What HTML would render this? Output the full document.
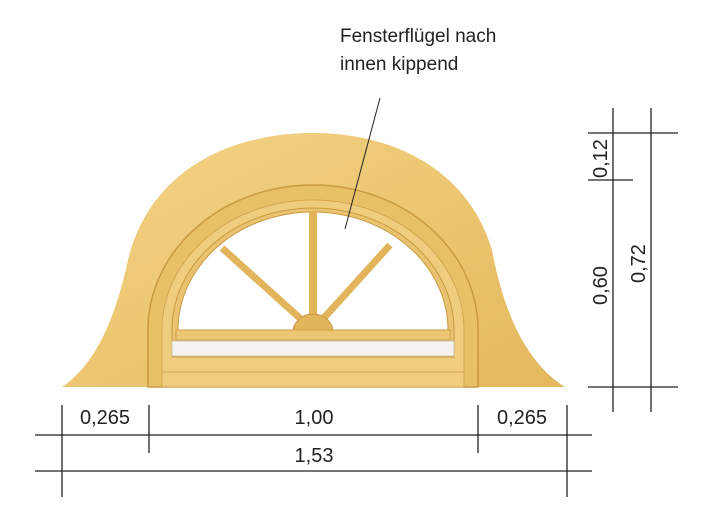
<!DOCTYPE html>
<html><head><meta charset="utf-8"><style>
html,body{margin:0;padding:0;background:#fff;}
svg{display:block;}
text{font-family:"Liberation Sans",sans-serif;fill:#222;}
</style></head><body>
<svg width="712" height="526" viewBox="0 0 712 526" xmlns="http://www.w3.org/2000/svg">
<defs>
<linearGradient id="w" x1="0" y1="0" x2="1" y2="1">
<stop offset="0" stop-color="#f3d488"/><stop offset="0.5" stop-color="#ecc670"/><stop offset="1" stop-color="#e3b85e"/>
</linearGradient>
</defs>
<!-- dormer body -->
<path d="M62,387 C95,365 115,320 128,260 C150,170 230,133 313,133 C400,133 470,175 492,250 C505,320 530,365 565,387 Z" fill="url(#w)"/>
<!-- window frame -->
<path d="M148,387 L148,330 A165,145 0 0 1 478,330 L478,387 Z" fill="#e8c068" stroke="#c99a40" stroke-width="1.5"/>
<path d="M162,387 L162,330 A151,130 0 0 1 464,330 L464,387 Z" fill="#f0cd7e" stroke="#d4a650" stroke-width="1"/>
<path d="M172,357 L172,330 A141,122 0 0 1 454,330 L454,357 Z" fill="#e9c371" stroke="#c99a40" stroke-width="1"/>
<!-- glass -->
<path d="M178,330 A135,118 0 0 1 448,330 Z" fill="#fff" stroke="#c99a40" stroke-width="1"/>
<!-- spokes -->
<line x1="313" y1="330" x2="313" y2="212" stroke="#e2b45c" stroke-width="8"/>
<line x1="313" y1="330" x2="222" y2="248" stroke="#e2b45c" stroke-width="7"/>
<line x1="313" y1="330" x2="390" y2="245" stroke="#e2b45c" stroke-width="7"/>
<path d="M293,332 A20,18 0 0 1 333,332 Z" fill="#e2b45c" stroke="#c99a40"/>
<rect x="176" y="330" width="274" height="10" fill="#ecc670" stroke="#c99a40" stroke-width="0.8"/>
<rect x="172" y="341" width="282" height="15" fill="#f4f2ee" stroke="#c9bda5" stroke-width="0.8"/>
<line x1="162" y1="372" x2="464" y2="372" stroke="#d4a650"/>
<!-- leader -->
<line x1="380" y1="98" x2="345" y2="229" stroke="#222" stroke-width="1"/>
<text x="340" y="42" font-size="19">Fensterflügel nach</text>
<text x="340" y="70" font-size="19">innen kippend</text>
<!-- right dimensions -->
<g stroke="#222" stroke-width="1.3">
<line x1="613" y1="108" x2="613" y2="412"/>
<line x1="651" y1="108" x2="651" y2="412"/>
<line x1="588" y1="133" x2="678" y2="133"/>
<line x1="588" y1="180" x2="633" y2="180"/>
<line x1="588" y1="387" x2="678" y2="387"/>
<!-- bottom -->
<line x1="35" y1="435" x2="592" y2="435"/>
<line x1="35" y1="471" x2="592" y2="471"/>
<line x1="62" y1="405" x2="62" y2="497"/>
<line x1="567" y1="405" x2="567" y2="497"/>
<line x1="149" y1="405" x2="149" y2="453"/>
<line x1="478" y1="405" x2="478" y2="453"/>
</g>
<text transform="translate(607,178) rotate(-90)" font-size="20">0,12</text>
<text transform="translate(607,305) rotate(-90)" font-size="20">0,60</text>
<text transform="translate(645,283) rotate(-90)" font-size="20">0,72</text>
<text x="105" y="424" font-size="20" text-anchor="middle">0,265</text>
<text x="314" y="424" font-size="20" text-anchor="middle">1,00</text>
<text x="522" y="424" font-size="20" text-anchor="middle">0,265</text>
<text x="314" y="462" font-size="20" text-anchor="middle">1,53</text>
</svg>
</body></html>
